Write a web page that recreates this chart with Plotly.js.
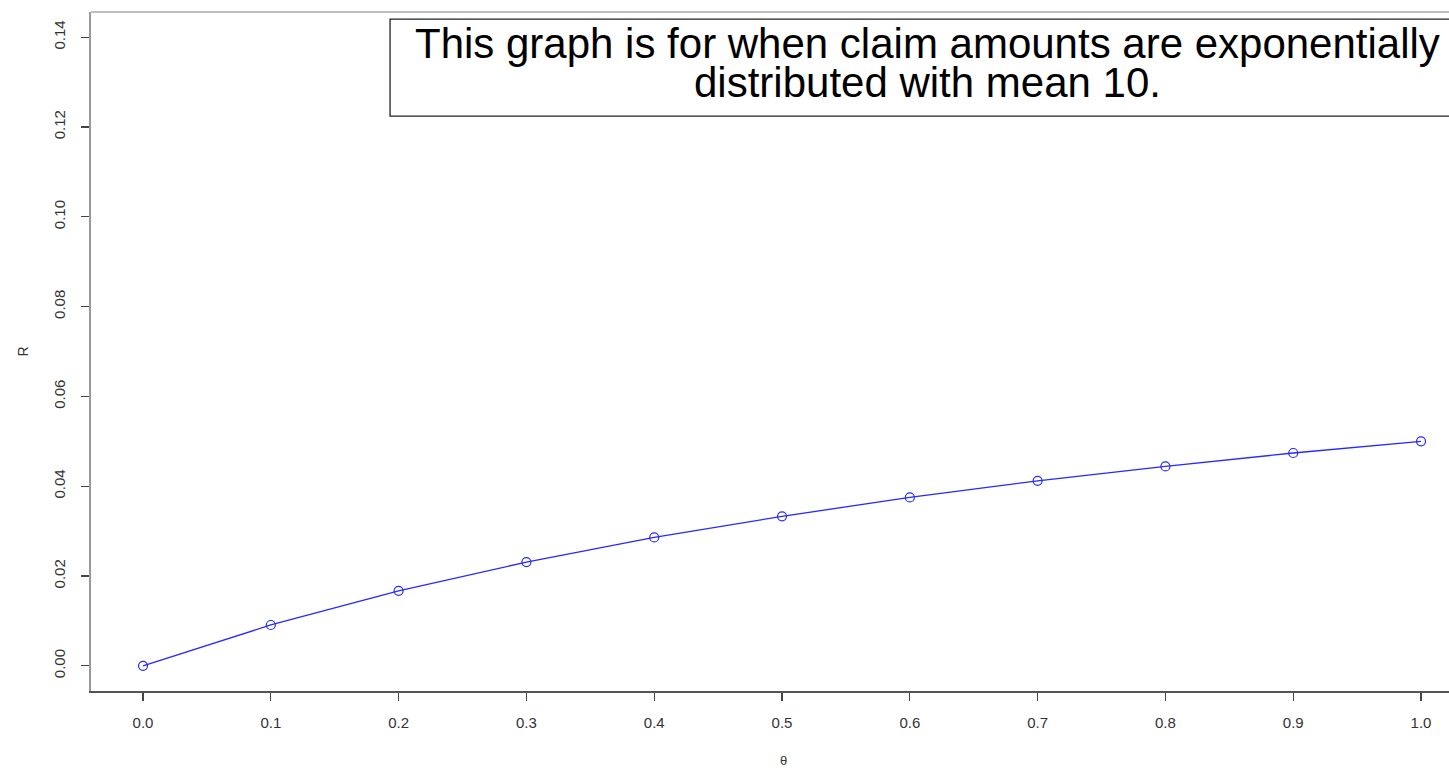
<!DOCTYPE html>
<html>
<head>
<meta charset="utf-8">
<script src="https://cdn.plot.ly/plotly-3.0.1.min.js"></script>
<style>html,body{margin:0;padding:0;background:#fff;}#chart{width:1449px;height:768px;}</style>
</head>
<body>
<div id="chart"></div>
<script>
const theta = [0.0, 0.1, 0.2, 0.3, 0.4, 0.5, 0.6, 0.7, 0.8, 0.9, 1.0];
const R = [0.0, 0.0091, 0.0167, 0.0231, 0.0286, 0.0333, 0.0375, 0.0412, 0.0444, 0.0474, 0.0500];
const xTickVals = [0.0, 0.1, 0.2, 0.3, 0.4, 0.5, 0.6, 0.7, 0.8, 0.9, 1.0];
const xTickText = ["0.0", "0.1", "0.2", "0.3", "0.4", "0.5", "0.6", "0.7", "0.8", "0.9", "1.0"];
const yTickVals = [0.00, 0.02, 0.04, 0.06, 0.08, 0.10, 0.12, 0.14];
const yTickText = ["0.00", "0.02", "0.04", "0.06", "0.08", "0.10", "0.12", "0.14"];
const noteLines = ["This graph is for when claim amounts are exponentially", "distributed with mean 10."];
const xLabel = "θ";
const yLabel = "R";

const trace = {
  x: theta, y: R, type: 'scatter', mode: 'lines+markers',
  line: {color: 'rgb(40,40,255)', width: 1.3},
  marker: {symbol: 'circle-open', size: 9, color: 'rgb(40,40,255)', line: {width: 1.2, color: 'rgb(40,40,255)'}},
  hoverinfo: 'skip', showlegend: false
};

const fam = 'Liberation Sans, Arial, sans-serif';
const tickFont = {family: fam, size: 15, color: '#333'};

const layout = {
  width: 1449, height: 768,
  margin: {l: 91, r: 0, t: 12, b: 77, pad: 0},
  paper_bgcolor: '#fff', plot_bgcolor: '#fff',
  xaxis: {
    range: [-0.0407, 1.0219], tickvals: xTickVals, ticktext: xTickText,
    showgrid: false, zeroline: false, showline: true, linecolor: '#555', linewidth: 2,
    ticks: 'outside', ticklen: 8, tickcolor: '#444', tickwidth: 1.3,
    tickfont: tickFont, ticklabelstandoff: 9
  },
  yaxis: {
    range: [-0.0056, 0.1456], tickvals: yTickVals, ticktext: yTickText,
    showgrid: false, zeroline: false, showline: true, linecolor: '#999', linewidth: 2,
    ticks: 'outside', ticklen: 8, tickcolor: '#444', tickwidth: 1.3,
    tickfont: tickFont, tickangle: -90, ticklabelstandoff: 10
  },
  shapes: [
    {type: 'line', xref: 'paper', yref: 'paper', x0: 0, x1: 1, y0: 1, y1: 1, line: {color: '#aaa', width: 1.5}},
    {type: 'rect', xref: 'x', yref: 'y', x0: 0.1933, x1: 1.032, y0: 0.1224, y1: 0.1440, line: {color: '#222', width: 1.3}, fillcolor: 'rgba(0,0,0,0)'}
  ],
  annotations: [
    {xref: 'x', yref: 'y', x: 0.6135, y: 0.13866, text: noteLines[0], showarrow: false,
     font: {family: fam, size: 42, color: '#000'}, xanchor: 'center', yanchor: 'middle'},
    {xref: 'x', yref: 'y', x: 0.6135, y: 0.12998, text: noteLines[1], showarrow: false,
     font: {family: fam, size: 42, color: '#000'}, xanchor: 'center', yanchor: 'middle'},
    {xref: 'x', yref: 'paper', x: 0.5008, y: 0, yshift: -69, text: xLabel, showarrow: false,
     font: {family: fam, size: 13, color: '#333'}, xanchor: 'center', yanchor: 'middle'},
    {xref: 'paper', yref: 'paper', x: 0, xshift: -69, y: 0.5, text: yLabel, showarrow: false, textangle: -90,
     font: {family: fam, size: 14, color: '#333'}, xanchor: 'center', yanchor: 'middle'}
  ]
};

Plotly.newPlot('chart', [trace], layout, {displayModeBar: false, staticPlot: true});
</script>
</body>
</html>
